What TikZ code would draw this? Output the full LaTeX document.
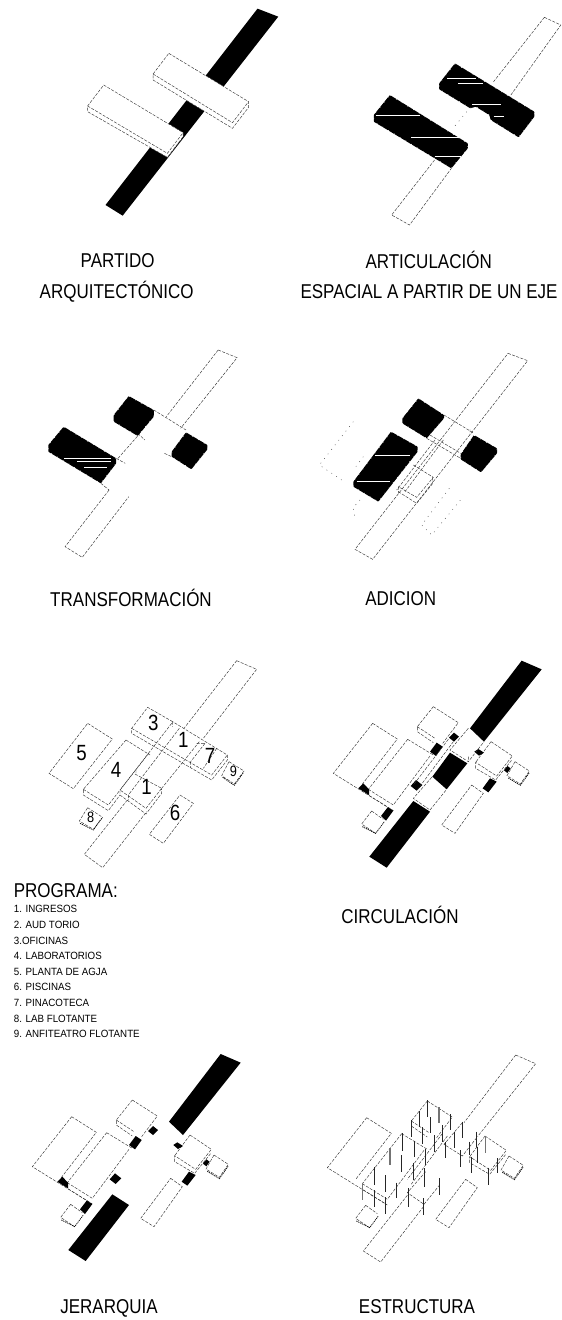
\documentclass[tikz,border=0pt]{standalone}
\usepackage{fontspec}
\setmainfont[FakeStretch=.85]{Liberation Sans}
\newfontfamily\listfont[FakeStretch=.93]{Liberation Sans}

% the shapes shared by CIRCULACION, JERARQUIA and ESTRUCTURA
\newcommand{\planframes}{
  \draw[plan] (203,70) -- (277,117) -- (170,255) (203,70) -- (85,220) -- (265,332);
  \draw[plan] (308,118) -- (190,268) -- (190,285) -- (262,330) (190,268) -- (265,315) -- (375,168) (308,118) -- (385,165);
  \draw[plan] (385,20) -- (460,68) -- (413,130) (385,20) -- (337,80) -- (337,95) -- (385,128) (337,80) -- (390,115);
  \draw[plan] (558,125) -- (622,168) -- (575,228) -- (512,187) -- (512,205) -- (572,240) -- (622,178) (558,125) -- (512,187);
  \draw[plan] (500,255) -- (535,280) -- (450,400) -- (410,375) -- (500,255);
  \draw[plan] (200,333) -- (170,372) -- (212,400) (200,333) -- (235,358);
  \draw[plandense] (172,380) -- (212,400) -- (238,365);
  \draw[plan] (630,185) -- (673,213) -- (646,252) -- (606,227) -- (630,185);
  \draw[plandense] (610,234) -- (646,256) -- (673,218);
}
\newcommand{\planblacks}{
  \fill (650,-118) -- (710,-92) -- (537,125) -- (495,85) -- cycle;
  \fill (325,303) -- (375,335) -- (245,503) -- (193,470) -- cycle;
  \fill (447,98) -- (462,110) -- (447,125) -- (432,113) -- cycle;
  \fill (395,128) -- (413,140) -- (393,168) -- (375,155) -- cycle;
  \fill (333,240) -- (352,255) -- (335,272) -- (317,258) -- cycle;
  \fill (175,250) -- (192,268) -- (192,285) -- (160,265) -- cycle;
  \fill (248,322) -- (265,332) -- (243,362) -- (228,348) -- cycle;
  \fill (520,147) -- (537,158) -- (522,167) -- (508,155) -- cycle;
  \fill (555,235) -- (575,245) -- (550,277) -- (533,265) -- cycle;
  \fill (607,198) -- (617,205) -- (607,219) -- (597,211) -- cycle;
}

\begin{document}
\begin{tikzpicture}[x=.33333pt,y=-.33333pt,
  plan/.style={draw=black!80,line width=.45pt,dash pattern=on 3pt off 1.4pt},
  plandense/.style={draw=black,line width=.7pt,dash pattern=on 1.2pt off .8pt},
  faint/.style={draw=black!70,line width=.5pt,dash pattern=on .8pt off 5pt},
  rough/.style={fill=black,draw=white,line width=.7pt,dash pattern=on .7pt off 6pt,rounded corners=.7pt},
  streak/.style={draw=white,line width=.6pt},
  caption/.style={inner sep=0pt,font=\fontsize{20}{20}\selectfont},
  small/.style={inner sep=0pt,anchor=west,font=\listfont\fontsize{10.5}{10.5}\selectfont},
  num/.style={inner sep=0pt,font=\fontsize{22}{22}\selectfont},
  numsmall/.style={inner sep=0pt,font=\fontsize{15}{15}\selectfont}]

  \useasboundingbox (0,0) rectangle (1683,3960);

  % PARTIDO
  \begin{scope}[xscale=1.073]
    \fill (720,26) -- (778,50) -- (343,647) -- (295,615) -- cycle;
    \draw[plan,fill=white] (472,160) -- (695,305) -- (695,322) -- (650,385) -- (428,240) -- (428,222) -- cycle;
    \draw[plan] (428,222) -- (650,368) -- (695,305);
    \draw[plan,fill=white] (290,255) -- (512,398) -- (512,410) -- (468,472) -- (245,335) -- (245,318) -- cycle;
    \draw[plan] (245,318) -- (468,460) -- (512,398);
  \end{scope}

  % ARTICULACION
  \begin{scope}[xscale=1.073]
    \draw[plan] (1522,52) -- (1568,75) -- (1425,290) (1522,52) -- (1380,245);
    \draw[plan] (1215,480) -- (1095,645) -- (1145,675) -- (1262,505);
    \draw[faint] (1305,335) -- (1270,380);
    \path[rough] (1272,190) -- (1494,335) -- (1494,350) -- (1450,412) -- (1372,360) -- (1368,345) -- (1330,320) -- (1315,325) -- (1228,268) -- (1228,250) -- cycle;
    \path[rough] (1090,285) -- (1308,430) -- (1308,445) -- (1262,505) -- (1045,365) -- (1045,345) -- cycle;
    \draw[streak] (1250,235) -- (1330,235) (1280,250) -- (1350,250) (1320,313) -- (1400,313) (1380,348) -- (1410,348);
    \draw[streak] (1050,345) -- (1175,345) (1150,412) -- (1285,412) (1215,468) -- (1290,468);
  \end{scope}

  % TRANSFORMACION
  \begin{scope}[shift={(0,960)},xscale=1.073]
    \draw[plan] (610,90) -- (663,113) -- (505,325) (610,90) -- (465,290);
    \draw[plan] (305,510) -- (182,680) -- (230,712) -- (360,530);
    \draw[plan] (430,270) -- (520,330) (385,340) -- (405,360) (460,400) -- (480,410) (325,415) -- (350,430) (282,490) -- (305,510) (330,415) -- (385,348);
    \path[rough] (360,228) -- (430,270) -- (430,290) -- (385,348) -- (318,305) -- (318,285) -- cycle;
    \path[rough] (520,337) -- (580,375) -- (580,388) -- (535,448) -- (480,410) -- (480,395) -- cycle;
    \path[rough] (178,320) -- (325,415) -- (325,430) -- (282,490) -- (135,395) -- (135,375) -- cycle;
    \draw[streak] (180,415) -- (310,415) (215,425) -- (310,425) (235,443) -- (300,443);
  \end{scope}

  % ADICION
  \begin{scope}[shift={(870,1170)}]
    \draw[plan] (654,-110) -- (713,-88) -- (248,508) -- (195,478) -- cycle;
    \draw[plan] (462,75) -- (552,130) (410,145) -- (512,205) (420,135) -- (512,190);
    \draw[plan] (370,225) -- (430,262) -- (380,322) -- (325,290) (325,305) -- (380,340) -- (430,278);
    \draw[plan] (435,150) -- (320,300) (460,150) -- (345,305) (540,118) -- (540,135) (325,290) -- (325,310) (428,262) -- (428,280);
    \draw[faint] (190,95) -- (88,225) -- (155,270) (220,200) -- (190,240) (478,295) -- (395,405) -- (425,435) -- (518,322) (210,330) -- (190,352) -- (195,382);
    \path[rough] (385,25) -- (462,75) -- (462,85) -- (410,145) -- (337,100) -- (337,85) -- cycle;
    \path[rough] (552,135) -- (621,175) -- (621,190) -- (573,247) -- (512,208) -- (512,193) -- cycle;
    \path[rough] (303,125) -- (383,170) -- (383,185) -- (265,335) -- (190,290) -- (190,275) -- cycle;
    \draw[streak] (255,197) -- (360,197) (200,275) -- (300,275);
  \end{scope}

  % PROGRAMA
  \begin{scope}[shift={(120,2100)}]
    \draw[plan] (590,-118) -- (650,-92) -- (490,115) (590,-118) -- (432,85);
    \draw[plan] (262,300) -- (133,463) -- (188,503) -- (320,335);
    \draw[plan] (143,70) -- (217,117) -- (100,266) -- (27,220) -- cycle;
    \draw[plan] (420,285) -- (460,310) -- (370,430) -- (328,403) -- cycle;
    \draw[plan] (398,65) -- (323,22) -- (275,85) -- (275,100) -- (515,240) -- (562,180) -- (562,165) -- cycle;
    \draw[plan] (275,85) -- (515,225) -- (562,165) (398,65) -- (398,80) (452,185) -- (452,203);
    \draw[plan] (258,120) -- (130,268) -- (130,285) -- (205,332) -- (240,285) (130,268) -- (205,315) -- (330,155) (258,120) -- (330,165);
    \draw[plan] (285,222) -- (365,265) -- (318,325) -- (240,270) -- (240,285) -- (318,342) -- (365,280) -- (365,265) (265,285) -- (265,300) (288,210) -- (288,225);
    \draw[plan] (395,70) -- (240,270) (418,85) -- (265,285);
    \draw[plan] (478,125) -- (365,265) (495,130) -- (452,185) (470,130) -- (495,130) (530,145) -- (490,205);
    \draw[plan] (143,323) -- (188,352) -- (160,388) -- (118,363) -- cycle;
    \draw[plandense] (120,370) -- (160,390) -- (185,355);
    \draw[plan] (567,185) -- (612,213) -- (583,252) -- (545,227) -- cycle;
    \draw[plandense] (548,232) -- (583,256) -- (610,218);
  \end{scope}

  % CIRCULACION
  \begin{scope}[shift={(915,2100)}]
    \planframes
    \planblacks
    \fill (435,158) -- (487,190) -- (425,268) -- (382,230) -- cycle;
    \draw[plan] (490,85) -- (435,150) -- (490,185) -- (537,125) (490,170) -- (490,185);
    \draw[plan] (380,232) -- (325,295) -- (375,330) -- (425,268);
    \draw[plan] (430,118) -- (325,255) (445,125) -- (335,272);
  \end{scope}

  % JERARQUIA
  \begin{scope}[shift={(12,3280)}]
    \planframes
    \planblacks
  \end{scope}

  % ESTRUCTURA
  \begin{scope}[shift={(897,3283)}]
    \planframes
    \draw[plan] (650,-118) -- (710,-92) -- (537,125) (650,-118) -- (495,85);
    \draw[plan] (325,303) -- (193,470) -- (245,503) -- (375,335);
    \draw[plan] (430,118) -- (325,255) (445,125) -- (335,272);
    \draw[plan] (490,85) -- (435,150) -- (490,185) -- (537,125) (380,232) -- (325,295) -- (375,330) -- (425,268);
  \end{scope}
  \begin{scope}[shift={(900,3270)}]
    \draw[line width=.9pt,black!85]
      (381,30) -- (381,80) (450,72) -- (450,120) (358,62) -- (358,110) (392,82) -- (392,130)
      (427,105) -- (427,155) (335,90) -- (335,140) (368,112) -- (368,162) (404,135) -- (404,185)
      (437,155) -- (437,205) (487,95) -- (487,145) (463,125) -- (463,175) (530,125) -- (530,170)
      (508,155) -- (508,195) (533,170) -- (533,220) (482,180) -- (482,232) (592,205) -- (592,250)
      (565,233) -- (565,285) (307,130) -- (307,183) (342,152) -- (342,200) (375,178) -- (375,225)
      (304,195) -- (304,245) (340,218) -- (340,270) (373,235) -- (373,290) (222,232) -- (222,285)
      (256,255) -- (256,305) (290,278) -- (290,325) (222,300) -- (222,350) (256,322) -- (256,372)
      (325,295) -- (325,350) (370,325) -- (370,375) (417,265) -- (417,315) (513,200) -- (513,250);
    \draw[line width=1.4pt,black!55]
      (417,52) -- (417,100) (557,138) -- (557,190) (270,175) -- (270,225) (187,278) -- (187,330);
  \end{scope}

  % texts
  \node[caption] (partido) at (353,781) {PARTIDO};
  \node[caption] (arquitectonico) at (350,875) {ARQUITECTÓNICO};
  \node[caption] (articulacion) at (1286,781) {ARTICULACIÓN};
  \node[caption] (espacial) at (1287,875) {ESPACIAL A PARTIR DE UN EJE};
  \node[caption] (transformacion) at (393,1795) {TRANSFORMACIÓN};
  \node[caption] (adicion) at (1202,1797) {ADICION};
  \node[caption] (circulacion) at (1200,2745) {CIRCULACIÓN};
  \node[caption] (jerarquia) at (327,3926) {JERARQUIA};
  \node[caption] (estructura) at (1251,3920) {ESTRUCTURA};

  \node[caption,anchor=west] (programa) at (41,2672) {PROGRAMA:};
  \node[small] (p1) at (41,2728) {1. INGRESOS};
  \node[small] (p2) at (41,2775) {2. AUD TORIO};
  \node[small] (p3) at (41,2822) {3.OFICINAS};
  \node[small] (p4) at (41,2868) {4. LABORATORIOS};
  \node[small] (p5) at (41,2915) {5. PLANTA DE AGJA};
  \node[small] (p6) at (41,2962) {6. PISCINAS};
  \node[small] (p7) at (41,3009) {7. PINACOTECA};
  \node[small] (p8) at (41,3056) {8. LAB FLOTANTE};
  \node[small] (p9) at (41,3103) {9. ANFITEATRO FLOTANTE};

  \begin{scope}[shift={(120,2100)}]
    \node[num] (n5) at (125,160) {5};
    \node[num] (n4) at (228,210) {4};
    \node[num] (n3) at (340,70) {3};
    \node[num] (n1a) at (430,120) {1};
    \node[num] (n7) at (510,168) {7};
    \node[num] (n1b) at (320,262) {1};
    \node[num] (n6) at (405,340) {6};
    \node[numsmall] (n8) at (152,352) {8};
    \node[numsmall] (n9) at (580,215) {9};
  \end{scope}
\end{tikzpicture}
\end{document}
